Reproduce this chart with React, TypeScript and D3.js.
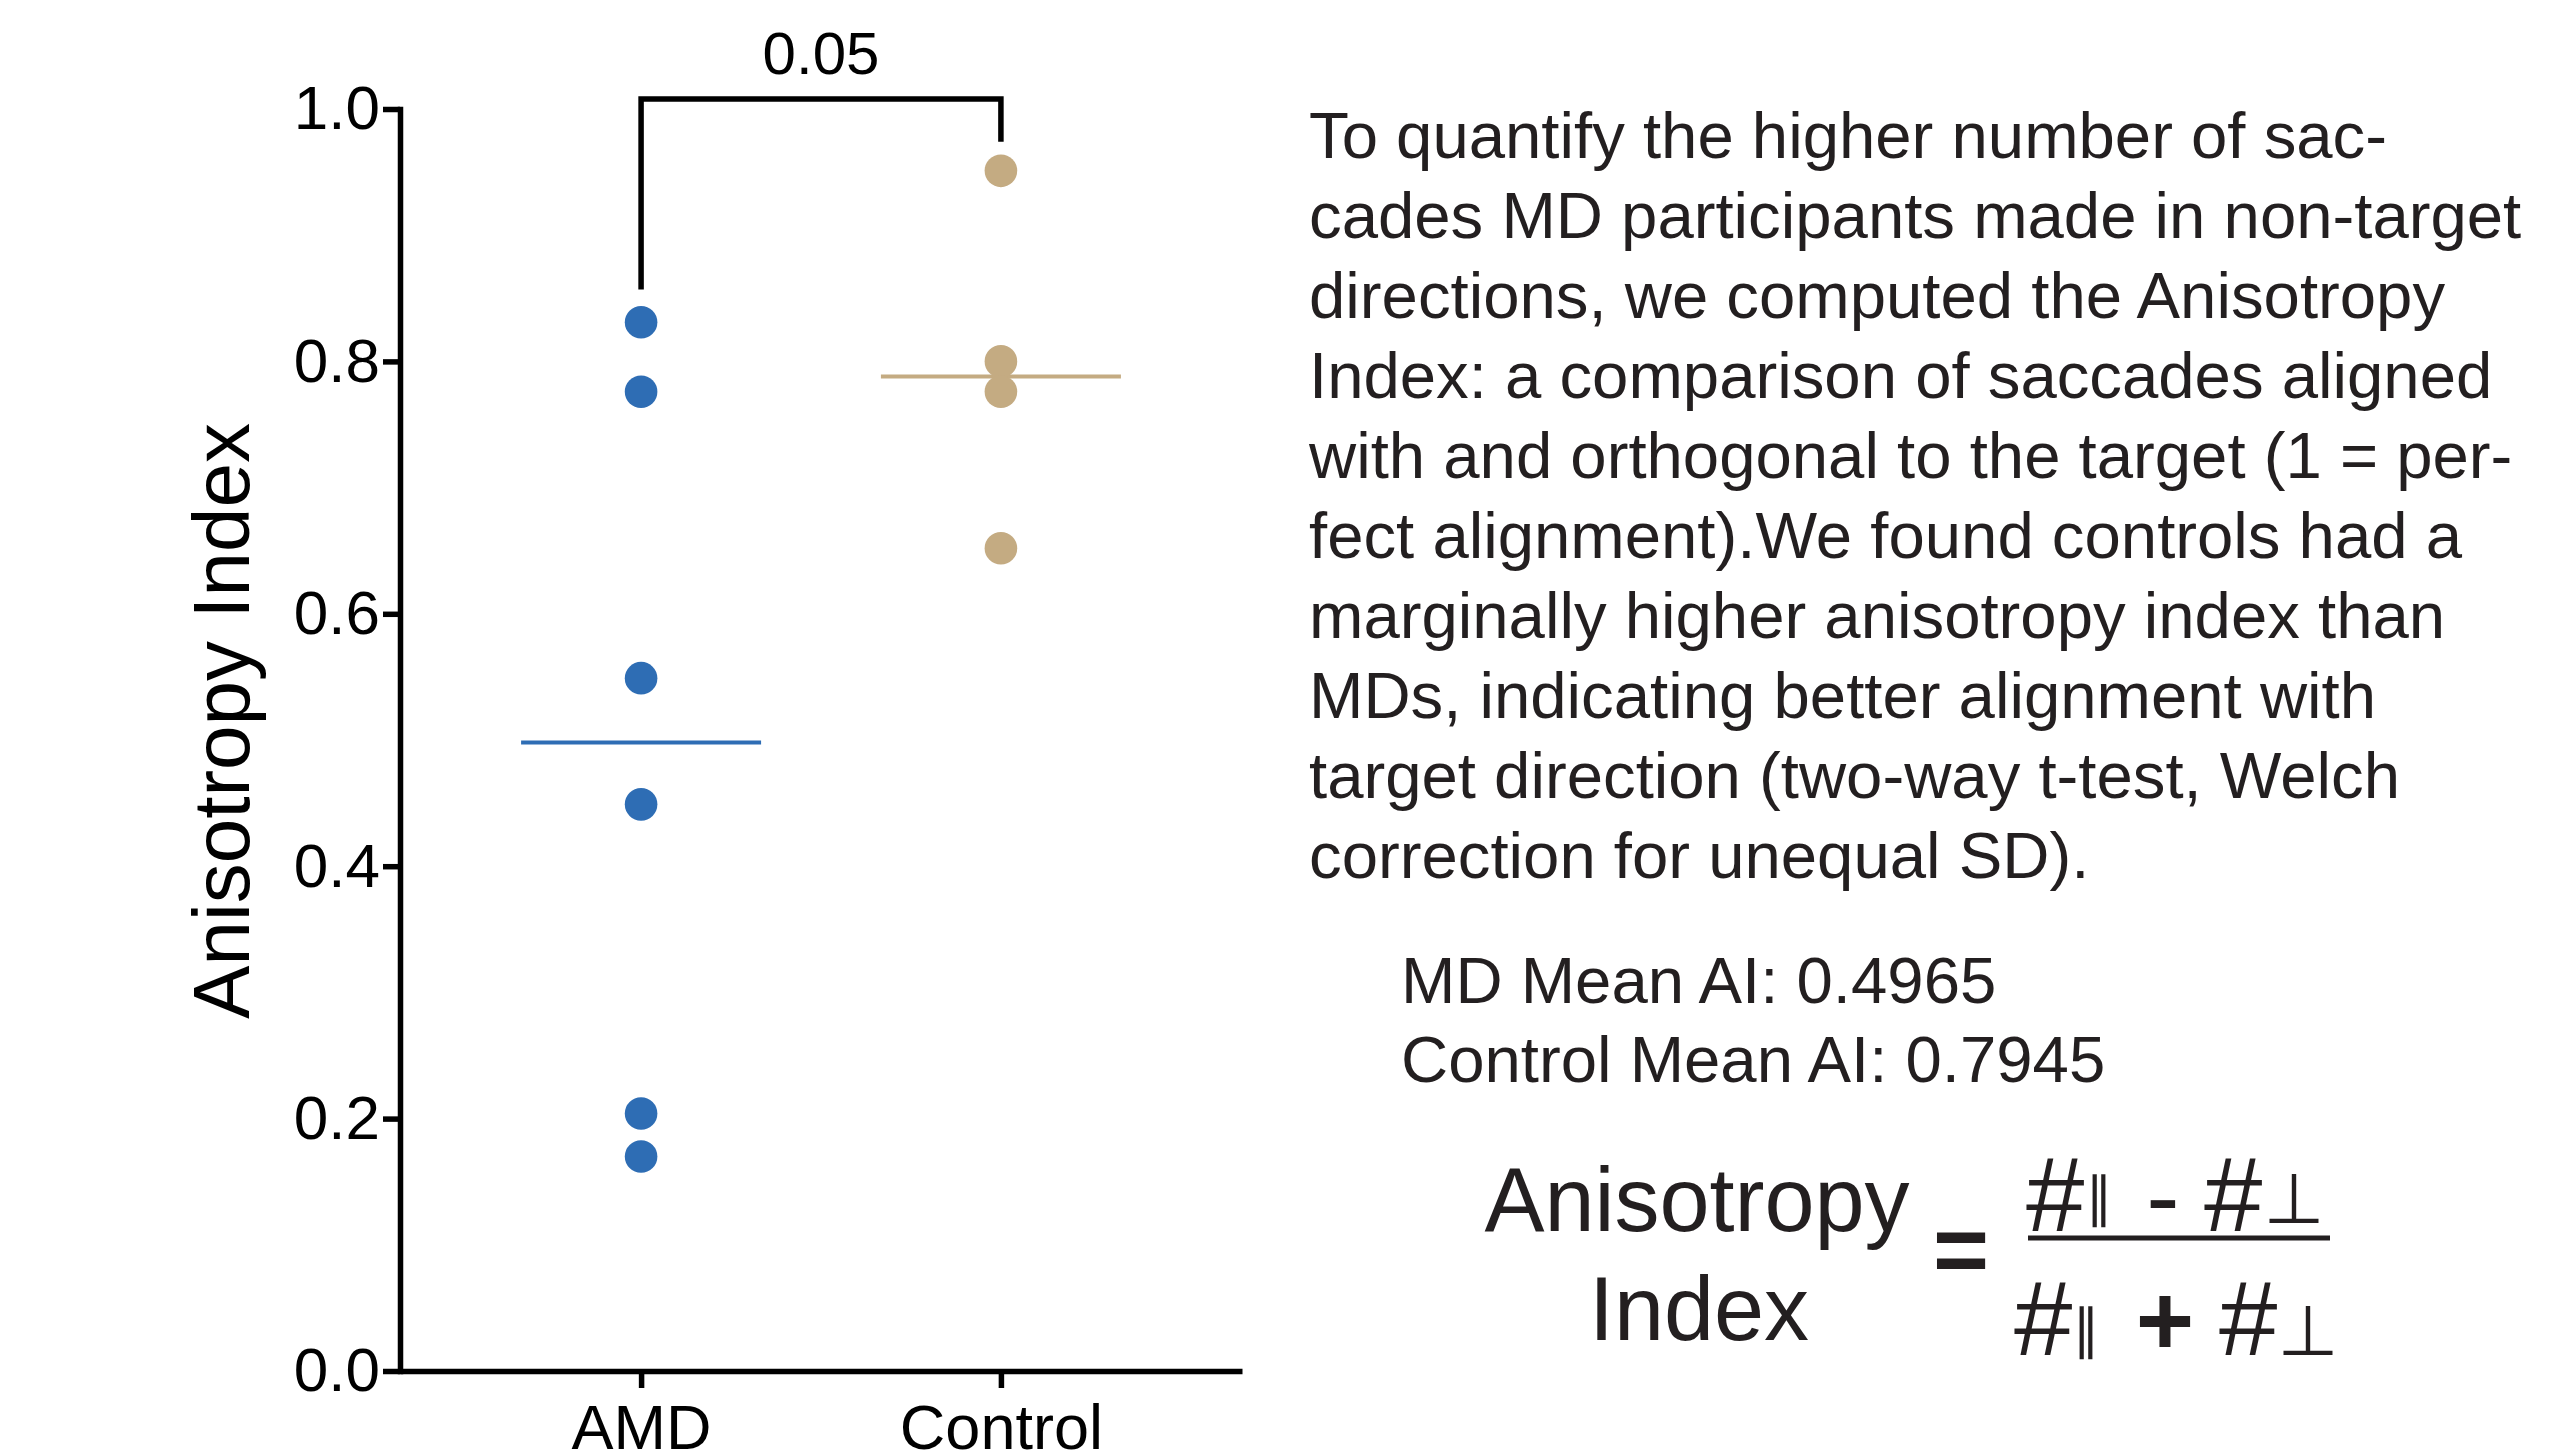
import * as d3 from "d3";
import React, { useEffect, useRef } from "react";

const groups = ["AMD", "Control"];
const amdValues = [0.831, 0.776, 0.549, 0.449, 0.204, 0.17];
const controlValues = [0.951, 0.8, 0.776, 0.652];
const meanLineValues = [0.498, 0.788];
const yTicks = [0, 0.2, 0.4, 0.6, 0.8, 1.0];
const pLabel = "0.05";
// bracket levels, in axis units: left leg end, top, right leg end
const bracketLevels = [0.857, 1.008, 0.974];

const paragraph = [
	"To quantify the higher number of sac-",
	"cades MD participants made in non-target",
	"directions, we computed the Anisotropy",
	"Index: a comparison of saccades aligned",
	"with and orthogonal to the target (1 = per-",
	"fect alignment).We found controls had a",
	"marginally higher anisotropy index than",
	"MDs, indicating better alignment with",
	"target direction (two-way t-test, Welch",
	"correction for unequal SD).",
];
const meanLines = ["MD Mean AI: 0.4965", "Control Mean AI: 0.7945"];

const colors = ["#2e6db4", "#c4ab82"];
const FONT = "'Liberation Sans', Arial, Helvetica, sans-serif";
const SYM = "'DejaVu Sans', sans-serif";
const INK = "#231f20";

const App = () => {
	const svgRef = useRef(null);

	useEffect(() => {
		if (!svgRef.current) return;
		document.body.style.margin = "0";
		const svg = d3.select(svgRef.current);
		svg.selectAll("*").remove();

		const x = d3.scalePoint().domain(groups).range([400, 1242]).padding(0.67);
		const y = d3.scaleLinear().domain([0, 1]).range([1371, 109]);

		// y axis
		const gy = svg
			.append("g")
			.attr("transform", "translate(400,0)")
			.call(
				d3
					.axisLeft(y)
					.tickValues(yTicks)
					.tickFormat(d3.format(".1f"))
					.tickSize(17)
					.tickSizeOuter(0)
					.tickPadding(3),
			);
		gy.select(".domain").attr("stroke-width", 5.5).attr("stroke-linecap", "square");
		gy.selectAll(".tick line").attr("stroke-width", 5.5);
		gy.selectAll(".tick text")
			.style("font-family", FONT)
			.style("font-size", "62px")
			.attr("fill", "#000");

		// x axis
		const gx = svg
			.append("g")
			.attr("transform", "translate(0,1371)")
			.call(d3.axisBottom(x).tickSize(17).tickSizeOuter(0).tickPadding(16));
		gx.select(".domain").attr("stroke-width", 5.5);
		gx.selectAll(".tick line").attr("stroke-width", 5.5);
		gx.selectAll(".tick text")
			.style("font-family", FONT)
			.style("font-size", "63px")
			.attr("fill", "#000");

		// y label
		svg
			.append("text")
			.attr("transform", "rotate(-90)")
			.attr("x", -721)
			.attr("y", 249)
			.attr("text-anchor", "middle")
			.style("font-family", FONT)
			.style("font-size", "80px")
			.text("Anisotropy Index");

		// mean lines
		const series = [amdValues, controlValues];
		svg
			.append("g")
			.selectAll("line")
			.data(groups)
			.enter()
			.append("line")
			.attr("x1", (d) => x(d) - 120)
			.attr("x2", (d) => x(d) + 120)
			.attr("y1", (d, i) => y(meanLineValues[i]))
			.attr("y2", (d, i) => y(meanLineValues[i]))
			.attr("stroke", (d, i) => colors[i])
			.attr("stroke-width", 4);

		// points
		groups.forEach((g, i) => {
			svg
				.append("g")
				.selectAll("circle")
				.data(series[i])
				.enter()
				.append("circle")
				.attr("cx", x(g))
				.attr("cy", (d) => y(d))
				.attr("r", 16.3)
				.attr("fill", colors[i]);
		});

		// significance bracket
		const bx0 = x(groups[0]);
		const bx1 = x(groups[1]);
		svg
			.append("path")
			.attr(
				"d",
				d3.line()([
					[bx0, y(bracketLevels[0])],
					[bx0, y(bracketLevels[1])],
					[bx1, y(bracketLevels[1])],
					[bx1, y(bracketLevels[2])],
				]),
			)
			.attr("fill", "none")
			.attr("stroke", "#000")
			.attr("stroke-width", 5.5);
		svg
			.append("text")
			.attr("x", (bx0 + bx1) / 2)
			.attr("y", 74)
			.attr("text-anchor", "middle")
			.style("font-family", FONT)
			.style("font-size", "60px")
			.text(pLabel);

		// paragraph
		svg
			.append("g")
			.selectAll("text")
			.data(paragraph)
			.enter()
			.append("text")
			.attr("x", 1309)
			.attr("y", (d, i) => 158 + i * 80)
			.attr("fill", INK)
			.style("font-family", FONT)
			.style("font-size", "65.3px")
			.text((d) => d);

		svg
			.append("g")
			.selectAll("text")
			.data(meanLines)
			.enter()
			.append("text")
			.attr("x", 1401)
			.attr("y", (d, i) => 1003 + i * 79)
			.attr("fill", INK)
			.style("font-family", FONT)
			.style("font-size", "65.3px")
			.text((d) => d);

		// formula
		const f = svg.append("g").attr("fill", INK);
		const put = (t, px, py, size, anchor = "start", fam = FONT, weight = "normal") =>
			f
				.append("text")
				.attr("x", px)
				.attr("y", py)
				.attr("text-anchor", anchor)
				.style("font-family", fam)
				.style("font-size", `${size}px`)
				.style("font-weight", weight)
				.text(t);

		put("Anisotropy", 1697, 1231, 90, "middle");
		put("Index", 1699, 1340, 90, "middle");
		put("=", 1961, 1283, 96, "middle", FONT, "bold");

		put("#", 2026, 1231, 105);
		put("\u2225", 2099, 1216, 54, "middle", SYM);
		put("-", 2163, 1231, 100, "middle");
		put("#", 2204, 1231, 105);
		put("\u22A5", 2294, 1223, 70, "middle", SYM);

		f.append("line")
			.attr("x1", 2028)
			.attr("x2", 2330)
			.attr("y1", 1238)
			.attr("y2", 1238)
			.attr("stroke", INK)
			.attr("stroke-width", 5);

		put("#", 2014, 1355, 105);
		put("\u2225", 2086, 1348, 54, "middle", SYM);
		put("+", 2165, 1355, 100, "middle", FONT, "bold");
		put("#", 2219, 1355, 105);
		put("\u22A5", 2308, 1355, 70, "middle", SYM);
	}, []);

	return (
		<svg
			ref={svgRef}
			width={2550}
			height={1452}
			style={{ position: "absolute", left: 0, top: 0, display: "block", background: "#fff" }}
		/>
	);
};

export default App;
